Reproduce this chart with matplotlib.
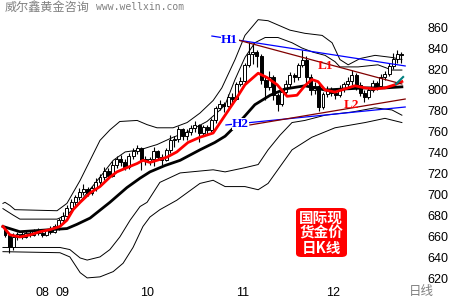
import matplotlib
matplotlib.use('Agg')
import matplotlib.pyplot as plt
from matplotlib.patches import FancyBboxPatch

plt.rcParams['font.family'] = ['Liberation Sans', 'Noto Sans CJK SC', 'DejaVu Sans']

# 日K线数据 (2007-08 ~ 2007-12)
opens = [668, 662, 650, 660, 663, 660, 664, 662, 666, 664, 662, 667, 665,
         670, 676, 680, 688, 693, 698, 703, 706, 702, 707, 712, 717, 723, 718,
         729, 734, 731, 727, 737,
         742, 745, 734, 732, 734, 742, 736, 733, 743, 752, 753, 763, 756, 760,
         764, 767, 759, 765, 762, 771, 783, 787, 785,
         793, 791, 806, 809, 824, 834, 836, 832, 810, 803, 812, 795, 787, 798,
         806, 814, 812, 824, 829, 812, 800, 804,
         784, 796, 801, 797, 795, 802, 806, 809, 814, 805, 797, 793, 800, 807,
         804, 812, 815, 823, 830, 834]
highs = [670, 663, 664, 665, 666, 666, 667, 668, 669, 668, 668, 670, 672,
         678, 684, 690, 696, 700, 707, 710, 708, 709, 716, 720, 727, 726, 732,
         737, 738, 734, 740, 745,
         748, 746, 737, 736, 746, 743, 739, 745, 757, 756, 766, 764, 763, 767,
         770, 768, 767, 767, 773, 785, 790, 789, 796,
         797, 808, 812, 826, 846, 845, 838, 834, 813, 818, 814, 797, 801, 810,
         817, 816, 826, 838, 832, 815, 808, 806,
         798, 804, 803, 800, 805, 808, 812, 819, 816, 808, 800, 803, 810, 809,
         815, 818, 826, 835, 838, 836]
lows = [660, 645, 648, 657, 658, 659, 660, 661, 662, 660, 661, 663, 664,
        667, 674, 678, 685, 689, 695, 700, 699, 700, 704, 709, 714, 716, 717,
        726, 728, 724, 725, 734,
        739, 724, 729, 729, 728, 733, 729, 732, 740, 746, 750, 752, 752, 757,
        760, 750, 757, 757, 760, 769, 781, 779, 784,
        787, 790, 804, 806, 822, 825, 822, 806, 790, 800, 790, 780, 785, 795,
        803, 808, 810, 822, 806, 795, 796, 780,
        782, 793, 794, 791, 793, 798, 803, 805, 800, 794, 789, 791, 798, 800,
        802, 810, 813, 820, 826, 826]
closes = [662, 650, 660, 663, 660, 664, 662, 666, 664, 662, 667, 665, 670,
          676, 680, 688, 693, 698, 703, 706, 702, 707, 712, 717, 723, 718, 729,
          734, 731, 727, 737, 742,
          745, 733, 732, 734, 742, 736, 733, 743, 752, 753, 763, 756, 760, 764,
          767, 759, 765, 762, 771, 783, 787, 785, 793,
          791, 806, 809, 824, 834, 836, 832, 810, 803, 812, 795, 787, 798, 806,
          814, 812, 824, 829, 812, 800, 804, 784,
          796, 801, 797, 795, 802, 806, 809, 814, 805, 797, 793, 800, 807, 804,
          812, 815, 823, 830, 834, 833]

# 均线 (按K线序号取点)
ma_fast_x = [-0.5, 1.2, 3.6, 6.1, 8.5, 10.9, 13.3, 15, 16.5, 18.2, 20.6, 23,
             25.4, 27.1, 29.5, 32, 33.4, 35.1, 36.8, 39.2, 41.6, 44.3, 47.2,
             50.4, 53.3, 55.7, 58.1, 61.3, 63.4, 65.9, 68.3, 70.7, 72.6, 74.3,
             75.8, 77.5, 79.9, 82.3, 84.7, 87.2, 89.6, 92, 94.4, 96.1]
ma_fast = [670, 662, 660, 662, 665, 667, 670, 676, 686, 693, 702, 708, 717,
           722, 726, 730, 733, 731, 733, 736, 741, 750, 755, 759, 776, 790,
           805, 816, 812, 805, 794, 795, 804, 810, 808, 800, 798, 801, 804,
           802, 801, 802, 805, 808]
ma_slow_x = [-0.5, 3.6, 15, 17.4, 20.6, 25.4, 29.5, 32.7, 35.1, 38.7, 42.4,
             47.2, 50.8, 53.3, 56.9, 60.5, 64.2, 67.8, 72.6, 77.5, 82.3, 87.2,
             92, 96.1]
ma_slow = [670, 665, 668, 672, 678, 693, 707, 716, 722, 728, 733, 743, 750,
           756, 770, 786, 795, 801, 804, 800, 801, 802, 802, 803]

# 通道线
outer_up_x = [-0.5, 0, 1.2, 2.4, 12.6, 15, 18.2, 20.6, 23, 25.4, 27.8, 32,
              34.4, 36.8, 40.7, 44.1, 47.2, 50.4, 52.5, 55.7, 58.1, 61.3,
              63.7, 69, 72.6, 76.8, 79.2, 81.1, 83.1, 86, 89.6, 93.7, 96.1]
outer_up = [692, 693, 690, 686, 685, 692, 714, 733, 752, 762, 770, 771, 767,
            764, 764, 769, 778, 790, 802, 829, 852, 867, 866, 857, 854, 852,
            845, 829, 824, 830, 833, 831, 829]
inner_up_x = [-0.5, 1.9, 3.6, 12.6, 15, 17.4, 19.9, 23, 26.2, 29.1, 32.7,
              35.1, 36.8, 40.7, 44.1, 48.9, 52.1, 53.3, 55.7, 58.1, 60.5, 63,
              66.1, 69.5, 71.9, 74.6, 77.5, 79.9, 81.1, 85.5, 90.3, 93.7, 96.1]
inner_up = [687, 681, 677, 677, 681, 690, 702, 717, 733, 741, 743, 746, 748,
            755, 760, 770, 781, 786, 810, 831, 845, 850, 850, 845, 840, 836,
            833, 827, 822, 822, 824, 819, 819]
inner_dn_x = [-0.5, 13.3, 15.7, 18.2, 19.9, 23, 25.4, 27.8, 30.3, 32.7, 34.4,
              37.5, 42.4, 50.4, 53.3, 58.1, 61.3, 63.7, 66.6, 69.5, 72.6, 77.5,
              84, 89.6, 93.7, 96.1]
inner_dn = [650, 650, 648, 640, 638, 641, 648, 660, 676, 689, 693, 712, 721,
            724, 722, 726, 729, 743, 757, 769, 771, 776, 779, 783, 781, 776]
outer_dn_x = [-0.5, 13.3, 15.7, 18.2, 19.9, 23, 26.2, 28.6, 31, 33.4, 35.1,
              37.5, 41.6, 47.2, 50.4, 53.3, 58.1, 61.3, 63.7, 69.5, 74.3, 79.9,
              87.2, 92, 96.1]
outer_dn = [646, 645, 641, 626, 621, 622, 627, 635, 650, 670, 679, 686, 695,
            711, 714, 708, 708, 705, 711, 743, 755, 764, 769, 773, 769]

# 趋势线 (起点, 终点)
h1_x, h1_y = [50.1, 96.9], [851.4, 822.9]
l1_x, l1_y = [56.4, 96.1], [847.6, 805.7]
h2_x, h2_y = [53.5, 96.9], [766.7, 783.8]
l2_x, l2_y = [59.3, 96.9], [766.7, 791.4]
teal_x, teal_y = [94.7, 96.4], [805.7, 812.4]

month_pos = [8.96, 14.0, 34.4, 57.6, 79.4]
month_labels = ['08', '09', '10', '11', '12']
yticks = list(range(620, 861, 20))

fig = plt.figure(figsize=(4.5, 3), dpi=100)
ax = fig.add_axes([0, 16 / 300, 412 / 450, 272 / 300])
ax.set_xlim(-1.211, 98.55)
ax.set_ylim(615.2, 874.3)
for s in ax.spines.values():
    s.set_visible(False)

# 通道
for bx, by in [(outer_up_x, outer_up), (inner_up_x, inner_up),
               (inner_dn_x, inner_dn), (outer_dn_x, outer_dn)]:
    ax.plot(bx, by, color='black', lw=0.7, zorder=1)

# K线
idx = list(range(len(closes)))
ax.vlines(idx, lows, highs, color='black', lw=0.8, zorder=2)
bottoms = [min(o, c) for o, c in zip(opens, closes)]
heights = [max(abs(c - o), 0.6) for o, c in zip(opens, closes)]
colors = ['white' if c >= o else 'black' for o, c in zip(opens, closes)]
ax.bar(idx, heights, bottom=bottoms, width=0.72, color=colors,
       edgecolor='black', lw=0.7, zorder=3)

ax.plot(ma_slow_x, ma_slow, color='black', lw=2.0, zorder=4)
ax.plot(ma_fast_x, ma_fast, color='#ff0000', lw=2.0, zorder=5)

ax.plot(h1_x, h1_y, color='#0000ff', lw=0.9, zorder=6)
ax.plot(h2_x, h2_y, color='#0000ff', lw=0.9, zorder=6)
ax.plot(l1_x, l1_y, color='#800000', lw=0.9, zorder=6)
ax.plot(l2_x, l2_y, color='#800000', lw=0.9, zorder=6)
ax.plot(teal_x, teal_y, color='#008080', lw=1.5, zorder=6)

lab = dict(family=['Liberation Serif', 'DejaVu Serif'], fontweight='bold',
           fontsize=9.5, ha='center', va='center', zorder=7)
ax.text(54.4, 847.6, 'H1', color='#0000ff',
        bbox=dict(fc='white', ec='none', pad=0.3), **lab)
ax.text(57.0, 767.6, 'H2', color='#0000ff',
        bbox=dict(fc='white', ec='none', pad=0.3), **lab)
ax.text(77.5, 822.9, 'L1', color='#ff0000', **lab)
ax.text(84.0, 786.0, 'L2', color='#ff0000', **lab)

ax.yaxis.tick_right()
ax.set_yticks(yticks)
ax.set_yticklabels([str(v) for v in yticks])
ax.tick_params(axis='y', length=0, pad=11, labelsize=9)
ax.set_xticks(month_pos)
ax.set_xticklabels(month_labels)
ax.tick_params(axis='x', length=0, pad=2, labelsize=9)
for t in ax.get_yticklabels():
    t.set_horizontalalignment('left')

fig.text(421 / 450, 1 - 292 / 300, '日线', color='#808080', fontsize=9,
         ha='center', va='center', family=['Noto Sans CJK SC', 'DejaVu Sans'])

fig.text(5 / 450, 1 - 7 / 300, '威尔鑫黄金咨询', color='#808080', fontsize=8.7,
         ha='left', va='center', family=['Noto Sans CJK SC', 'DejaVu Sans'])
fig.text(96 / 450, 1 - 7 / 300, 'www.wellxin.com', color='#808080',
         fontsize=7, ha='left', va='center', family='DejaVu Sans Mono')

# 印章
stamp = FancyBboxPatch((296 / 450, 1 - 257 / 300), 51 / 450, 49 / 300,
                       boxstyle='round,pad=0,rounding_size=0.012',
                       transform=fig.transFigure, fc='#ff0000', ec='none')
fig.patches.append(stamp)
for k, line in enumerate(['国际现', '货金价', '日K线']):
    fig.text(321 / 450, 1 - (218 + 15 * k) / 300, line, color='white',
             fontsize=10.5, fontweight='bold', ha='center', va='center',
             family=['Noto Sans CJK SC', 'DejaVu Sans'])

fig.savefig('out.png', dpi=100)
